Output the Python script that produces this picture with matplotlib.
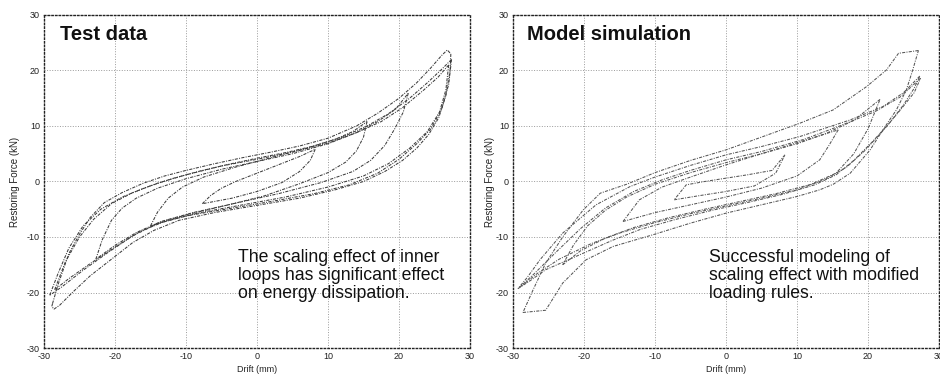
import matplotlib
matplotlib.use("Agg")
import matplotlib.pyplot as plt

# ---------------- Test data (left panel) ----------------
# outer cycle 1
test_c1_up_x = [-28.8, -28.0, -26.5, -25.0, -23.5, -21.5, -19.0, -16.0, -13.0, -10.0, -6.0, -2.0, 2.0, 6.0, 10.0, 14.0, 17.0, 20.0, 22.5, 24.5, 26.0, 26.8, 27.3]
test_c1_up_y = [-22.0, -18.5, -13.0, -9.5, -6.5, -3.8, -2.0, -0.3, 1.0, 2.0, 3.2, 4.3, 5.3, 6.4, 7.8, 10.0, 12.3, 15.0, 17.8, 20.5, 22.7, 23.7, 23.0]
test_c1_dn_x = [27.3, 27.2, 26.6, 25.6, 24.2, 22.5, 20.5, 18.0, 15.0, 11.0, 6.0, 0.0, -6.0, -11.0, -14.5, -17.5, -20.5, -23.5, -26.0, -27.8, -28.6, -28.9, -28.8]
test_c1_dn_y = [23.0, 20.0, 15.5, 11.5, 8.5, 6.0, 3.8, 1.8, 0.0, -1.5, -3.0, -4.3, -5.6, -7.0, -8.8, -11.0, -14.0, -17.0, -20.0, -22.3, -23.0, -22.5, -22.0]
# outer cycle 2
test_c2_up_x = [-29.2, -28.0, -26.5, -24.5, -22.0, -19.0, -15.5, -12.0, -8.0, -4.0, 0.0, 4.0, 8.0, 12.0, 15.5, 18.5, 21.5, 24.0, 26.0, 27.4]
test_c2_up_y = [-20.5, -16.5, -12.0, -8.0, -5.0, -2.8, -1.0, 0.5, 1.9, 3.1, 4.2, 5.2, 6.4, 8.0, 10.0, 12.2, 15.0, 17.8, 20.2, 22.0]
test_c2_dn_x = [27.4, 27.0, 26.0, 24.5, 22.5, 20.0, 17.0, 13.0, 8.0, 2.0, -4.0, -10.0, -14.0, -17.5, -21.0, -24.5, -27.5, -29.2]
test_c2_dn_y = [22.0, 17.5, 13.0, 9.5, 6.8, 4.0, 1.5, -0.6, -2.2, -3.6, -4.9, -6.2, -7.6, -9.8, -12.8, -16.0, -19.0, -20.5]
# outer cycle 3
test_c3_up_x = [-28.5, -27.0, -25.0, -23.0, -20.5, -17.5, -14.0, -10.0, -5.0, 0.0, 5.0, 10.0, 14.0, 17.5, 20.5, 23.5, 25.5, 27.0]
test_c3_up_y = [-19.5, -14.5, -10.0, -6.8, -4.0, -2.0, -0.3, 1.2, 2.8, 4.0, 5.3, 6.9, 8.8, 10.8, 13.3, 16.5, 18.8, 21.0]
test_c3_dn_x = [27.0, 26.6, 25.7, 24.0, 21.5, 18.5, 15.0, 10.0, 4.0, -2.0, -8.0, -13.0, -16.5, -20.0, -23.5, -26.5, -28.5]
test_c3_dn_y = [21.0, 16.5, 12.5, 9.0, 6.0, 3.2, 1.0, -1.0, -2.8, -4.2, -5.6, -7.2, -9.0, -11.8, -14.8, -17.5, -19.5]
# inner cycle +-22
test_c4_up_x = [-22.7, -21.8, -20.5, -19.0, -17.0, -14.0, -10.0, -5.0, 0.0, 5.0, 10.0, 14.0, 17.0, 19.5, 21.3]
test_c4_up_y = [-14.0, -10.5, -7.0, -4.8, -3.0, -1.2, 0.5, 2.2, 3.6, 5.0, 6.8, 8.8, 10.8, 13.0, 15.9]
test_c4_dn_x = [21.3, 20.6, 19.4, 18.0, 16.0, 13.5, 9.0, 3.0, -3.0, -9.0, -13.5, -17.0, -20.0, -22.7]
test_c4_dn_y = [15.9, 12.5, 9.5, 6.5, 3.8, 1.8, -0.2, -2.2, -3.9, -5.6, -7.2, -9.2, -11.5, -14.0]
# inner cycle +-15
test_c5_up_x = [-15.0, -14.0, -12.5, -10.5, -7.5, -3.0, 2.0, 7.0, 11.0, 13.5, 15.5]
test_c5_up_y = [-8.0, -5.5, -3.0, -1.0, 0.8, 2.6, 4.3, 6.0, 7.6, 9.0, 10.8]
test_c5_dn_x = [15.5, 15.0, 14.0, 12.5, 10.0, 6.0, 1.0, -4.0, -9.0, -12.5, -15.0]
test_c5_dn_y = [10.8, 8.0, 5.5, 3.5, 1.6, -0.4, -2.6, -4.2, -5.7, -6.9, -8.0]
# inner cycle +-8
test_c6_up_x = [-7.7, -6.5, -5.0, -3.0, 0.0, 3.0, 6.0, 8.2]
test_c6_up_y = [-4.0, -2.5, -1.2, 0.0, 1.5, 3.0, 4.5, 5.8]
test_c6_dn_x = [8.2, 7.5, 6.0, 3.5, 0.0, -3.5, -6.0, -7.7]
test_c6_dn_y = [5.8, 3.8, 1.8, -0.2, -1.8, -3.0, -3.6, -4.0]

# ---------------- Model simulation (right panel) ----------------
model_c1_up_x = [27.1, 24.3, 22.6, 19.8, 15.1, 10.4, 5.0, 0.0, -5.0, -10.0, -14.0, -17.7, -20.1, -23.0, -25.4, -27.2, -28.6]
model_c1_up_y = [23.6, 23.1, 20.1, 17.1, 12.9, 10.5, 8.0, 5.7, 3.8, 1.6, -0.5, -2.1, -5.1, -10.0, -14.7, -19.6, -23.6]
model_c1_dn_x = [-28.6, -25.4, -23.0, -19.7, -15.9, -10.3, -5.0, 0.0, 5.0, 10.0, 13.2, 15.1, 17.5, 20.3, 22.1, 24.0, 25.4, 26.3, 27.1]
model_c1_dn_y = [-23.6, -23.2, -18.3, -14.1, -11.7, -9.6, -7.5, -5.7, -4.2, -2.7, -1.5, -0.5, 1.5, 5.7, 9.3, 12.9, 16.5, 20.1, 23.6]
model_c2_up_x = [27.3, 25.0, 22.1, 17.5, 10.4, 5.0, 0.0, -5.0, -10.0, -13.5, -18.3, -23.0, -26.2, -28.0, -29.3]
model_c2_up_y = [19.0, 16.0, 13.5, 11.1, 8.1, 6.3, 4.8, 2.9, 0.8, -0.9, -4.2, -9.3, -14.1, -17.3, -19.3]
model_c2_dn_x = [-29.3, -27.5, -25.4, -20.6, -16.0, -12.0, -7.0, -2.0, 3.0, 8.0, 12.5, 15.5, 18.0, 20.5, 23.0, 25.0, 26.5, 27.3]
model_c2_dn_y = [-19.3, -17.8, -15.9, -13.2, -10.6, -8.6, -6.8, -5.2, -3.8, -2.3, -0.6, 1.2, 3.8, 7.0, 10.5, 13.8, 16.8, 19.0]
model_c3_up_x = [27.4, 24.5, 21.0, 16.0, 11.0, 5.0, 0.0, -5.0, -9.0, -13.0, -17.0, -20.5, -24.0, -27.0, -29.0]
model_c3_up_y = [18.6, 15.2, 12.6, 10.0, 7.6, 5.4, 3.9, 2.0, 0.3, -1.8, -4.8, -8.5, -12.8, -16.6, -19.0]
model_c3_dn_x = [-29.0, -26.5, -23.5, -19.0, -15.0, -10.0, -5.0, 0.0, 5.0, 10.0, 14.0, 17.0, 19.5, 22.0, 24.5, 26.5, 27.4]
model_c3_dn_y = [-19.0, -16.5, -14.0, -11.2, -9.3, -7.4, -5.8, -4.4, -3.0, -1.5, 0.4, 2.6, 5.5, 9.0, 12.8, 16.0, 18.6]
model_c4_up_x = [21.7, 18.0, 14.0, 10.0, 5.0, 0.0, -5.0, -10.0, -14.0, -17.0, -19.5, -21.5, -23.0]
model_c4_up_y = [14.8, 11.0, 8.6, 6.8, 5.0, 3.4, 1.6, -0.5, -2.8, -5.2, -8.0, -11.5, -15.0]
model_c4_dn_x = [-23.0, -20.5, -17.0, -13.0, -8.0, -3.0, 2.0, 7.0, 12.0, 15.5, 18.0, 20.0, 21.7]
model_c4_dn_y = [-15.0, -12.5, -10.2, -8.3, -6.5, -5.0, -3.6, -2.2, -0.5, 1.5, 5.0, 9.5, 14.8]
model_c5_up_x = [-14.5, -12.2, -9.0, -5.0, 0.0, 5.0, 10.0, 15.8]
model_c5_up_y = [-7.2, -3.3, -1.0, 0.8, 3.0, 5.0, 7.0, 9.3]
model_c5_dn_x = [15.8, 14.5, 13.2, 10.0, 5.0, 0.0, -5.0, -10.0, -14.5]
model_c5_dn_y = [9.3, 6.5, 3.9, 1.0, -1.2, -2.8, -4.2, -5.6, -7.2]
model_c6_up_x = [8.3, 6.5, 3.0, 0.0, -3.0, -5.6, -7.3]
model_c6_up_y = [4.8, 2.0, 1.2, 0.6, 0.0, -0.6, -3.3]
model_c6_dn_x = [-7.3, -4.0, 0.0, 4.0, 7.0, 8.3]
model_c6_dn_y = [-3.3, -2.6, -1.8, -0.8, 1.5, 4.8]

ticks = [-30, -20, -10, 0, 10, 20, 30]
tick_labels = ["-30", "-20", "-10", "0", "10", "20", "30"]
panel_titles = ["Test data", "Model simulation"]
panel_notes = ["The scaling effect of inner\nloops has significant effect\non energy dissipation.",
               "Successful modeling of\nscaling effect with modified\nloading rules."]
x_label = "Drift (mm)"
y_label = "Restoring Force (kN)"

test_series = [
    (test_c1_up_x, test_c1_up_y), (test_c1_dn_x, test_c1_dn_y),
    (test_c2_up_x, test_c2_up_y), (test_c2_dn_x, test_c2_dn_y),
    (test_c3_up_x, test_c3_up_y), (test_c3_dn_x, test_c3_dn_y),
    (test_c4_up_x, test_c4_up_y), (test_c4_dn_x, test_c4_dn_y),
    (test_c5_up_x, test_c5_up_y), (test_c5_dn_x, test_c5_dn_y),
    (test_c6_up_x, test_c6_up_y), (test_c6_dn_x, test_c6_dn_y),
]
model_series = [
    (model_c1_up_x, model_c1_up_y), (model_c1_dn_x, model_c1_dn_y),
    (model_c2_up_x, model_c2_up_y), (model_c2_dn_x, model_c2_dn_y),
    (model_c3_up_x, model_c3_up_y), (model_c3_dn_x, model_c3_dn_y),
    (model_c4_up_x, model_c4_up_y), (model_c4_dn_x, model_c4_dn_y),
    (model_c5_up_x, model_c5_up_y), (model_c5_dn_x, model_c5_dn_y),
    (model_c6_up_x, model_c6_up_y), (model_c6_dn_x, model_c6_dn_y),
]

plt.rcParams['font.family'] = ['Liberation Sans', 'DejaVu Sans']

W, H = 940, 376
fig = plt.figure(figsize=(9.4, 3.76), dpi=100)
fig.patch.set_facecolor('white')

axes_px = [(44, 15, 426, 333), (513, 15, 426, 333)]
ylabel_x_px = [15, 490]
series_list = [test_series, model_series]
line_colors = ['#3c3c3c', '#555555']

for i in range(2):
    lx, ty, w, h = axes_px[i]
    ax = fig.add_axes([lx / W, 1 - (ty + h) / H, w / W, h / H])
    for xs, ys in series_list[i]:
        ax.plot(xs, ys, color=line_colors[i], lw=0.75,
                linestyle=(0, (3, 1.2, 1, 1.2)))
    ax.set_xlim(-30, 30)
    ax.set_ylim(-30, 30)
    ax.set_xticks(ticks)
    ax.set_xticklabels(tick_labels)
    ax.set_yticks(ticks)
    ax.set_yticklabels(tick_labels)
    ax.tick_params(length=0, labelsize=6.5, colors='#222222', pad=3)
    ax.grid(True, color='#9a9a9a', linestyle=':', linewidth=0.7)
    for sp in ax.spines.values():
        sp.set_linestyle(':')
        sp.set_linewidth(1.0)
        sp.set_color('#222222')
    ax.set_xlabel(x_label, fontsize=6.5, color='#222222')
    ax.xaxis.label.set_va('center')
    ax.xaxis.set_label_coords(0.5, -(370 - 348) / h)
    ax.set_ylabel(y_label, fontsize=7, color='#222222')
    ax.yaxis.label.set_va('center')
    ax.yaxis.set_label_coords((ylabel_x_px[i] - lx) / w, 0.5)
    ax.text(0.037 if i == 0 else 0.032, 0.94, panel_titles[i], transform=ax.transAxes,
            fontsize=14.5, fontweight='bold', ha='left', va='center', color='#111111')
    ax.text(0.455 if i == 0 else 0.46, 0.218, panel_notes[i], transform=ax.transAxes,
            fontsize=12.7, ha='left', va='center', linespacing=1.1, color='#111111')

fig.savefig('out.png', dpi=100, facecolor='white')
